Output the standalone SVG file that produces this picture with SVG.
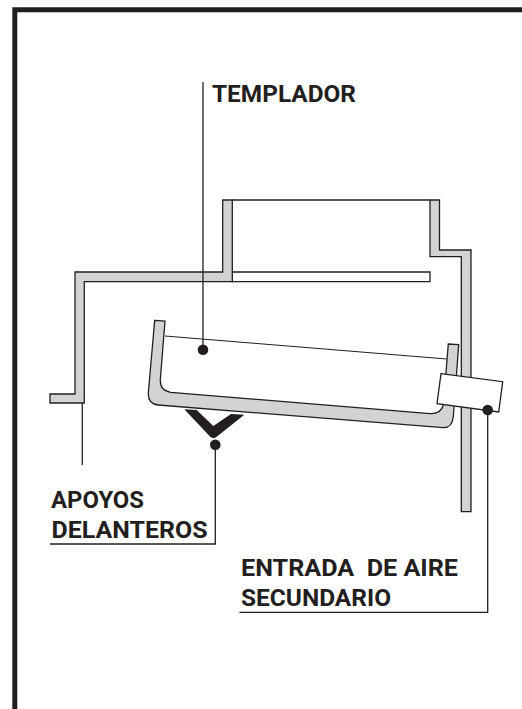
<svg xmlns="http://www.w3.org/2000/svg" width="522" height="709" viewBox="0 0 522 709">
<style>
.part{fill:#d1d3d4;stroke:#231f20;stroke-width:1.3;stroke-linejoin:miter}
.blank{fill:#fff;stroke:#231f20;stroke-width:1.3}
.leader{fill:none;stroke:#231f20;stroke-width:1.3}
.dot{fill:#231f20}
text{font-family:"Roboto","Liberation Sans",sans-serif;font-weight:700;font-size:24.500px;fill:#231f20;white-space:pre}
</style>
<rect width="522" height="709" fill="#fff"/>
<path d="M14.800 709V9.800H522" fill="none" stroke="#231f20" stroke-width="5"/>
<g id="apparatus">
<path class="blank" d="M232.300 272H430V281.700H232.300Z"/>
<path class="leader" d="M232.300 200H430"/>
<path class="part" d="M50 394H75V272H222.700V200H232.300V281.700H84.300V403H50Z"/>
<path class="part" d="M430 200H439.500V250H471V511.700H461.300V256.700H430Z"/>
<path class="leader" style="stroke-width:1" d="M165 336L446.700 359"/>
<path class="part" d="M154.700 320.300L165 321L160.300 380Q160 391 170.700 392.300L430 413.700Q441 414 443.300 405L448.300 344L458.700 344.700L453.300 416.700Q452 428 443.300 427.700L158.300 405Q148 404 148.300 393.300Z"/>
<path fill="#231f20" d="M184.300 409.300L196.700 410L213.300 426L231 414L244.300 414.700L217 436.500Q213.300 439.500 210 436.500Z"/>
<path class="blank" d="M441 373.700L502.700 381.700L498.700 412L437 403.700Z"/>
</g>
<g id="connectors">
<path class="leader" d="M203 82V350"/>
<path class="leader" d="M82.300 403V465"/>
<path class="leader" d="M215.300 445V544H50"/>
<path class="leader" d="M487.700 410V612.300H239.500"/>
<circle class="dot" cx="203" cy="349.700" r="5.300"/>
<circle class="dot" cx="215.300" cy="444.700" r="5.300"/>
<circle class="dot" cx="487.700" cy="410" r="5.300"/>
</g>
<g id="label-templador"><text x="212" y="101.700" textLength="144" lengthAdjust="spacingAndGlyphs">TEMPLADOR</text></g>
<g id="label-apoyos"><text x="51" y="508" textLength="93" lengthAdjust="spacingAndGlyphs">APOYOS</text><text x="51.500" y="538" textLength="156" lengthAdjust="spacingAndGlyphs">DELANTEROS</text></g>
<g id="label-entrada"><text x="241" y="575.700" textLength="217" lengthAdjust="spacingAndGlyphs">ENTRADA  DE AIRE</text><text x="241" y="605.700" textLength="150" lengthAdjust="spacingAndGlyphs">SECUNDARIO</text></g>
</svg>
